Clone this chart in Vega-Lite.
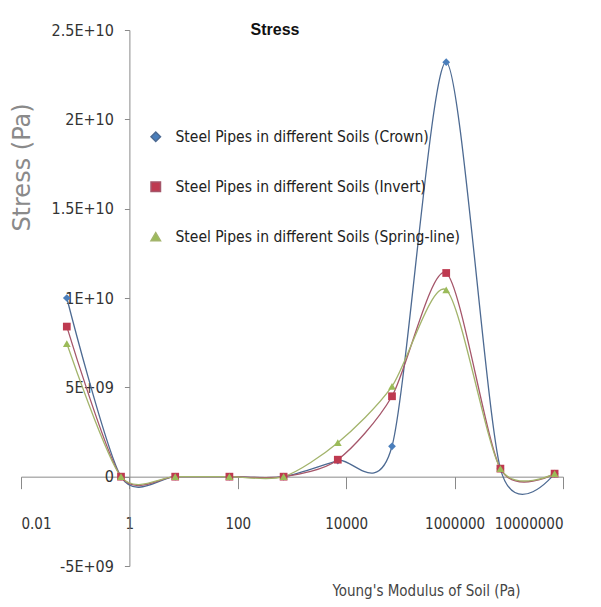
{
  "$schema": "https://vega.github.io/schema/vega-lite/v6.json",
  "autosize": {"type": "none"},
  "width": 542,
  "height": 536,
  "padding": {"left": 21, "top": 30, "right": 38, "bottom": 41},
  "background": "white",
  "title": {"text": "Stress", "font": "Liberation Sans", "fontSize": 16, "fontWeight": "bold", "color": "#111", "anchor": "middle", "dx": -17, "dy": 24, "baseline": "middle", "offset": 0},
  "config": {"view": {"stroke": null}},
  "data": {"values": [
    {"modulus": 0.07, "series": "Steel Pipes in different Soils (Crown)", "stress": 10000000000},
    {"modulus": 0.7, "series": "Steel Pipes in different Soils (Crown)", "stress": 0},
    {"modulus": 7, "series": "Steel Pipes in different Soils (Crown)", "stress": 0},
    {"modulus": 70, "series": "Steel Pipes in different Soils (Crown)", "stress": 0},
    {"modulus": 700, "series": "Steel Pipes in different Soils (Crown)", "stress": 0},
    {"modulus": 7000, "series": "Steel Pipes in different Soils (Crown)", "stress": 900000000},
    {"modulus": 70000, "series": "Steel Pipes in different Soils (Crown)", "stress": 1700000000},
    {"modulus": 700000, "series": "Steel Pipes in different Soils (Crown)", "stress": 23200000000},
    {"modulus": 7000000, "series": "Steel Pipes in different Soils (Crown)", "stress": 450000000},
    {"modulus": 70000000, "series": "Steel Pipes in different Soils (Crown)", "stress": 170000000},
    {"modulus": 0.07, "series": "Steel Pipes in different Soils (Invert)", "stress": 8400000000},
    {"modulus": 0.7, "series": "Steel Pipes in different Soils (Invert)", "stress": 0},
    {"modulus": 7, "series": "Steel Pipes in different Soils (Invert)", "stress": 0},
    {"modulus": 70, "series": "Steel Pipes in different Soils (Invert)", "stress": 0},
    {"modulus": 700, "series": "Steel Pipes in different Soils (Invert)", "stress": 0},
    {"modulus": 7000, "series": "Steel Pipes in different Soils (Invert)", "stress": 950000000},
    {"modulus": 70000, "series": "Steel Pipes in different Soils (Invert)", "stress": 4500000000},
    {"modulus": 700000, "series": "Steel Pipes in different Soils (Invert)", "stress": 11400000000},
    {"modulus": 7000000, "series": "Steel Pipes in different Soils (Invert)", "stress": 450000000},
    {"modulus": 70000000, "series": "Steel Pipes in different Soils (Invert)", "stress": 170000000},
    {"modulus": 0.07, "series": "Steel Pipes in different Soils (Spring-line)", "stress": 7450000000},
    {"modulus": 0.7, "series": "Steel Pipes in different Soils (Spring-line)", "stress": 0},
    {"modulus": 7, "series": "Steel Pipes in different Soils (Spring-line)", "stress": 0},
    {"modulus": 70, "series": "Steel Pipes in different Soils (Spring-line)", "stress": 0},
    {"modulus": 700, "series": "Steel Pipes in different Soils (Spring-line)", "stress": 0},
    {"modulus": 7000, "series": "Steel Pipes in different Soils (Spring-line)", "stress": 1900000000},
    {"modulus": 70000, "series": "Steel Pipes in different Soils (Spring-line)", "stress": 5050000000},
    {"modulus": 700000, "series": "Steel Pipes in different Soils (Spring-line)", "stress": 10450000000},
    {"modulus": 7000000, "series": "Steel Pipes in different Soils (Spring-line)", "stress": 450000000},
    {"modulus": 70000000, "series": "Steel Pipes in different Soils (Spring-line)", "stress": 170000000}
  ]},
  "encoding": {
    "x": {
      "field": "modulus", "type": "quantitative",
      "scale": {"type": "log", "domain": [0.01, 100000000], "nice": false},
      "axis": {
        "values": [0.01, 1, 100, 10000, 1000000, 100000000],
        "labelExpr": "datum.value >= 100000000 ? '10000000' : datum.value < 0.5 ? '0.01' : format(datum.value, 'd')",
        "offset": -89.33,
        "grid": false,
        "domainColor": "#8a8a8a",
        "tickColor": "#8a8a8a",
        "tickSize": 12,
        "labelPadding": 28,
        "labelFont": "DejaVu Sans Condensed",
        "labelFontSize": 15,
        "labelColor": "#333",
        "title": "Young's Modulus of Soil (Pa)",
        "titleFont": "DejaVu Sans Condensed",
        "titleFontSize": 15,
        "titleFontWeight": "normal",
        "titleColor": "#444",
        "titleX": 405,
        "titleY": 114,
        "titleBaseline": "middle",
        "titleAlign": "center"
      }
    },
    "y": {
      "field": "stress", "type": "quantitative",
      "scale": {"domain": [-5000000000, 25000000000], "nice": false},
      "axis": {
        "values": [-5000000000, 0, 5000000000, 10000000000, 15000000000, 20000000000, 25000000000],
        "labelExpr": "datum.value == 0 ? '0' : datum.value < 0 ? '-5E+09' : datum.value == 5000000000 ? '5E+09' : datum.value == 10000000000 ? '1E+10' : datum.value == 15000000000 ? '1.5E+10' : datum.value == 20000000000 ? '2E+10' : '2.5E+10'",
        "offset": -108.4,
        "grid": false,
        "domainColor": "#8a8a8a",
        "tickColor": "#8a8a8a",
        "tickSize": 5,
        "labelPadding": 11,
        "labelFont": "DejaVu Sans Condensed",
        "labelFontSize": 16,
        "labelColor": "#333",
        "title": "Stress (Pa)",
        "titleFont": "DejaVu Sans",
        "titleFontSize": 24,
        "titleFontWeight": "normal",
        "titleColor": "#8a8a8a",
        "titleX": -107,
        "titleY": 137,
        "titleBaseline": "middle",
        "titleAlign": "center"
      }
    }
  },
  "layer": [
    {
      "mark": {"type": "line", "interpolate": "cardinal", "tension": 0.2, "strokeWidth": 1.3},
      "encoding": {
        "stroke": {
          "field": "series", "type": "nominal",
          "scale": {
            "domain": ["Steel Pipes in different Soils (Crown)", "Steel Pipes in different Soils (Invert)", "Steel Pipes in different Soils (Spring-line)"],
            "range": ["#4d6a92", "#a5566a", "#a3b46c"]
          }
        }
      }
    },
    {
      "mark": {"type": "point", "filled": true, "size": 60, "opacity": 1},
      "encoding": {
        "shape": {
          "field": "series", "type": "nominal",
          "scale": {
            "domain": ["Steel Pipes in different Soils (Crown)", "Steel Pipes in different Soils (Invert)", "Steel Pipes in different Soils (Spring-line)"],
            "range": ["diamond", "square", "triangle-up"]
          }
        },
        "fill": {
          "field": "series", "type": "nominal",
          "scale": {
            "domain": ["Steel Pipes in different Soils (Crown)", "Steel Pipes in different Soils (Invert)", "Steel Pipes in different Soils (Spring-line)"],
            "range": ["#4a7ebb", "#be3a50", "#9bbb59"]
          },
          "legend": {
            "orient": "none",
            "legendX": 127,
            "legendY": 99,
            "title": null,
            "symbolSize": 90,
            "symbolStrokeWidth": 1.5,
            "rowPadding": 33,
            "labelFont": "DejaVu Sans Condensed",
            "labelFontSize": 15.5,
            "labelColor": "#222",
            "labelOffset": 12,
            "labelLimit": 400
          }
        }
      }
    }
  ]
}
